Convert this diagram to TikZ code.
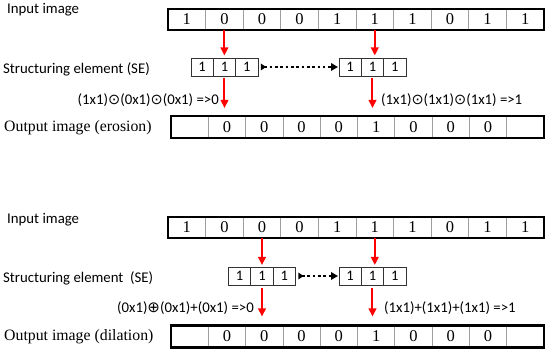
\documentclass[tikz,border=0pt]{standalone}
\usepackage{fontspec}
\setmainfont{Liberation Serif}
\newfontfamily\calfont{Carlito}
\newfontfamily\dvfont{DejaVu Sans}
\usetikzlibrary{arrows.meta}
\newcommand{\rowfont}{\fontsize{16.5}{18}\selectfont}
\newcommand{\sefont}{\calfont\fontsize{14.5}{16}\selectfont}
\newcommand{\labfont}{\calfont\fontsize{14.8}{16}\selectfont}
\newcommand{\outfont}{\fontsize{15.8}{18}\selectfont}
\newcommand{\myodot}{{\dvfont\fontsize{14.5}{15}\selectfont ⊙}}
\newcommand{\myoplus}{{\dvfont\fontsize{15}{15}\selectfont ⊕}}
\begin{document}
\begin{tikzpicture}[x=1pt,y=-1pt,
  cell/.style={minimum height=21pt, inner sep=0pt, outer sep=0pt, font=\rowfont, draw=gray!75, line width=0.7pt},
  secell/.style={minimum width=22.33pt, minimum height=18pt, inner sep=0pt, outer sep=0pt, draw=black!80, line width=0.7pt, font=\sefont},
  frame/.style={draw=black, line width=2.1pt},
  lab/.style={font=\labfont, inner sep=0pt},
  outlab/.style={font=\outfont, inner sep=0pt},
  redarrow/.style={red, line width=2pt, -{Triangle[length=8pt,width=7.5pt]}},
  dotarrow/.style={black, line width=2.4pt, dash pattern=on 2.6pt off 2.7pt, {Triangle[reversed,length=5pt,width=6.5pt]}-{Triangle[length=7pt,width=7.5pt]}}
]
\useasboundingbox (0,0) rectangle (550,355);

% ---------- erosion ----------
\node[lab, anchor=west] (lin1) at (7,10) {Input image};
\foreach \v [count=\i] in {1,0,0,0,1,1,1,0,1,1}
  \node[cell, minimum width=37.6pt] (in1-\i) at ({168+37.6*(\i-0.5)},19.5) {\v};
\draw[frame] (in1-1.north west) rectangle (in1-10.south east);

\node[lab, anchor=west] (lse1) at (3,69.5) {Structuring element (SE)};
\foreach \i in {1,2,3}
  \node[secell] (sa-\i) at ({191+22.33*(\i-0.5)},67) {1};
\foreach \i in {1,2,3}
  \node[secell] (sb-\i) at ({339+22.33*(\i-0.5)},67) {1};

\node[lab, anchor=east] (eq1) at (219,100) {(1x1)\myodot(0x1)\myodot(0x1) =>0};
\node[lab, anchor=west] (eq2) at (381,100) {(1x1)\myodot(1x1)\myodot(1x1) =>1};

\node[outlab, anchor=west] (lout1) at (4,128) {Output image (erosion)};
\foreach \v [count=\i] in {{},0,0,0,0,1,0,0,0,{}}
  \node[cell, minimum width=37.3pt, minimum height=22pt] (out1-\i) at ({171+37.3*(\i-0.5)},127) {\v};
\draw[frame] (out1-1.north west) rectangle (out1-10.south east);

\draw[redarrow, shorten >=2.5pt] (in1-2.south) -- (in1-2.south |- sa-2.north);
\draw[redarrow, shorten >=2.5pt] (in1-6.south) -- (in1-6.south |- sb-2.north);
\draw[redarrow, shorten <=2.5pt, shorten >=8pt] (sa-2.south) -- (sa-2.south |- out1-2.north);
\draw[redarrow, shorten <=2.5pt, shorten >=8pt] (sb-2.south) -- (sb-2.south |- out1-6.north);
\draw[dotarrow, shorten <=3pt, shorten >=1pt] (sa-3.east) -- (sb-1.west);

% ---------- dilation ----------
\node[lab, anchor=west] (lin2) at (7,220) {Input image};
\foreach \v [count=\i] in {1,0,0,0,1,1,1,0,1,1}
  \node[cell, minimum width=37.6pt] (in2-\i) at ({168+37.6*(\i-0.5)},227.5) {\v};
\draw[frame] (in2-1.north west) rectangle (in2-10.south east);

\node[lab, anchor=west] (lse2) at (3,278) {Structuring element\ \ (SE)};
\foreach \i in {1,2,3}
  \node[secell] (sc-\i) at ({228.5+22.33*(\i-0.5)},276) {1};
\foreach \i in {1,2,3}
  \node[secell] (sd-\i) at ({339+22.33*(\i-0.5)},276) {1};

\node[lab, anchor=east] (eq3) at (254,308) {(0x1)\myoplus(0x1)+(0x1) =>0};
\node[lab, anchor=west] (eq4) at (384,308) {(1x1)+(1x1)+(1x1) =>1};

\node[outlab, anchor=west] (lout2) at (4,337) {Output image (dilation)};
\foreach \v [count=\i] in {{},0,0,0,0,1,0,0,0,{}}
  \node[cell, minimum width=37.3pt, minimum height=22pt] (out2-\i) at ({171+37.3*(\i-0.5)},336.5) {\v};
\draw[frame] (out2-1.north west) rectangle (out2-10.south east);

\draw[redarrow, shorten >=2pt] (in2-3.south) -- (in2-3.south |- sc-2.north);
\draw[redarrow, shorten >=2pt] (in2-6.south) -- (in2-6.south |- sd-2.north);
\draw[redarrow, shorten <=3pt, shorten >=9pt] (sc-2.south) -- (sc-2.south |- out2-3.north);
\draw[redarrow, shorten <=3pt, shorten >=9pt] (sd-2.south) -- (sd-2.south |- out2-6.north);
\draw[dotarrow, shorten <=3pt, shorten >=1pt] (sc-3.east) -- (sd-1.west);
\end{tikzpicture}
\end{document}
